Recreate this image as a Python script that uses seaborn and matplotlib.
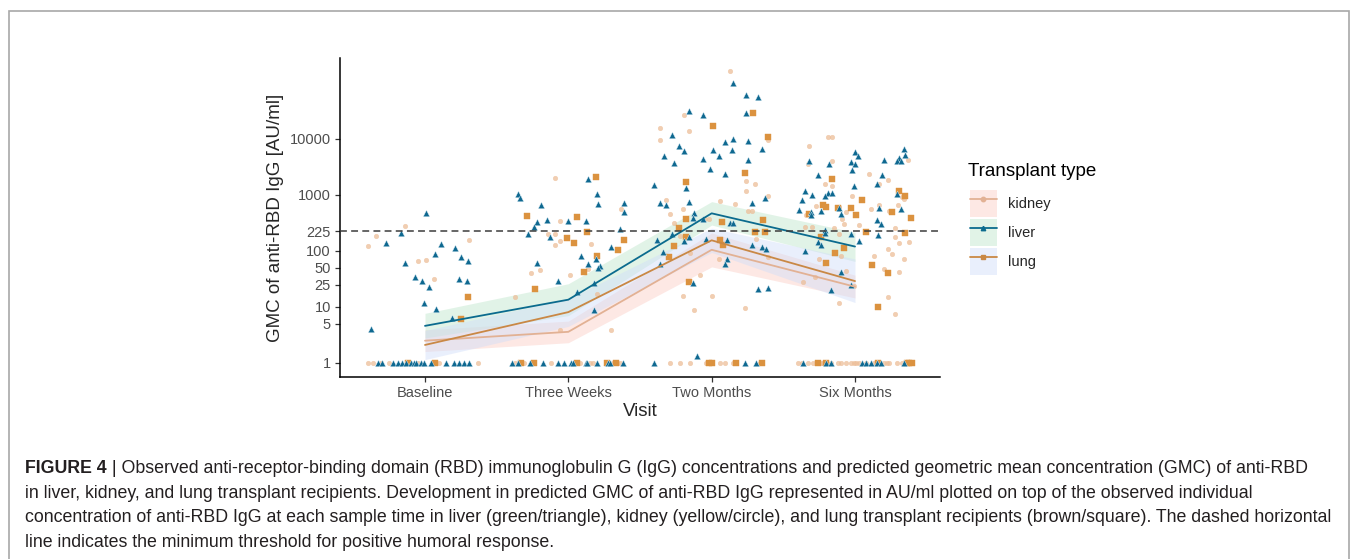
import pandas as pd
import seaborn as sns
import matplotlib.pyplot as plt
from matplotlib.patches import Patch, Rectangle
from matplotlib.lines import Line2D

# Visits (categorical x axis)
visits = ["Baseline", "Three Weeks", "Two Months", "Six Months"]

# Predicted GMC with confidence band, per transplant type
kidney_gmc = [2.5, 3.6, 105, 23]
kidney_lo = [1.6, 2.3, 52, 14.5]
kidney_hi = [3.9, 5.6, 210, 37]
liver_gmc = [4.6, 13.5, 470, 120]
liver_lo = [2.8, 7.0, 290, 65]
liver_hi = [7.7, 26, 760, 215]
lung_gmc = [2.1, 8.1, 155, 29]
lung_lo = [1.15, 4.5, 94, 12]
lung_hi = [3.8, 14, 255, 72]

threshold = 225
y_ticks = [1, 5, 10, 25, 50, 100, 225, 1000, 10000]

# Observed concentrations: (horizontal jitter, AU/ml)
liver_baseline = [(0.01, 480), (-0.17, 210), (-0.27, 137), (0.11, 132), (0.21, 113), (0.07, 87),
                  (0.25, 77), (0.30, 67), (-0.14, 60), (-0.07, 34), (-0.02, 29), (0.24, 32),
                  (0.29, 29), (0.03, 23), (-0.01, 12), (0.08, 9.2), (0.19, 6.4), (-0.38, 4.0)]
liver_baseline_floor = [-0.33, -0.30, -0.22, -0.19, -0.16, -0.13, -0.10, -0.08, -0.06, -0.03,
                        -0.01, 0.04, 0.15, 0.20, 0.24, 0.27, 0.31]
kidney_baseline = [(-0.14, 282), (-0.34, 185), (-0.40, 121), (0.31, 155), (-0.05, 65),
                   (0.01, 69), (0.06, 32)]
kidney_baseline_floor = [-0.40, -0.36, -0.31, -0.25, -0.05, 0.10, 0.37]
lung_baseline = [(0.30, 15), (0.25, 6.2)]
lung_baseline_floor = [-0.12, 0.07]

liver_3w = [(0.14, 1930), (-0.35, 1030), (-0.34, 870), (0.20, 1060), (0.21, 700), (0.39, 718),
            (0.39, 505), (-0.19, 671), (-0.15, 358), (-0.22, 330), (-0.24, 265), (-0.28, 204),
            (0.00, 350), (0.12, 345), (0.36, 250), (-0.13, 178), (0.30, 118), (0.09, 81),
            (0.19, 72), (0.14, 59), (0.22, 54), (0.21, 50), (-0.22, 62), (-0.07, 29.5),
            (0.06, 18.3), (0.18, 27), (0.18, 8.7)]
liver_3w_floor = [-0.39, -0.35, -0.27, -0.18, -0.07, -0.03, 0.02, 0.03, 0.12, 0.13, 0.20,
                  0.28, 0.29, 0.38]
kidney_3w = [(-0.09, 2040), (0.37, 555), (-0.06, 350), (-0.14, 200), (-0.09, 200), (-0.06, 152),
             (-0.09, 128), (0.16, 135), (-0.26, 41), (-0.20, 46), (0.01, 37), (0.14, 47),
             (-0.37, 15), (0.20, 17), (-0.06, 3.9), (0.30, 3.9)]
kidney_3w_floor = [-0.37, -0.31, -0.12, 0.08, 0.15, 0.17, 0.31, 0.34, 0.36]
lung_3w = [(0.19, 2100), (-0.29, 426), (0.06, 404), (-0.01, 173), (0.04, 141), (0.13, 218),
           (0.39, 155), (0.35, 102), (0.20, 80), (0.11, 43), (-0.23, 21)]
lung_3w_floor = [-0.33, -0.24, 0.06, 0.27, 0.33]

liver_2m = [(0.15, 101000), (0.24, 61000), (0.32, 55000), (0.24, 29500), (-0.16, 31600),
            (-0.06, 26900), (-0.28, 11600), (-0.23, 7500), (-0.19, 6000), (-0.33, 5000),
            (-0.26, 3700), (0.09, 8900), (0.15, 10000), (0.25, 9100), (0.01, 6370), (0.14, 6300),
            (0.05, 5000), (-0.06, 4300), (0.25, 4200), (0.35, 6600), (-0.01, 2900), (0.09, 2400),
            (-0.40, 1520), (-0.18, 1330), (-0.36, 710), (-0.32, 650), (-0.16, 750), (0.28, 710),
            (0.37, 870), (-0.12, 475), (-0.13, 394), (-0.06, 368), (0.13, 312), (0.15, 312),
            (-0.28, 200), (-0.38, 157), (-0.19, 149), (-0.16, 176), (-0.04, 166), (0.11, 160),
            (0.28, 128), (0.35, 120), (0.38, 108), (-0.34, 95), (-0.36, 58), (0.11, 71),
            (0.09, 59), (-0.13, 27), (0.32, 20.7), (0.39, 22), (-0.10, 1.33)]
liver_2m_floor = [-0.40, 0.23, 0.31]
kidney_2m = [(0.13, 162000), (-0.19, 26900), (-0.36, 15500), (-0.16, 14000), (-0.36, 9600),
             (0.39, 9500), (0.24, 1770), (0.30, 1600), (0.24, 1170), (-0.32, 820), (0.39, 970),
             (-0.20, 560), (0.06, 785), (0.16, 690), (0.25, 520), (0.28, 520), (-0.29, 450),
             (-0.26, 320), (-0.05, 368), (-0.02, 368), (-0.22, 185), (-0.15, 91), (0.05, 73),
             (0.31, 162), (0.39, 77), (-0.08, 37), (-0.20, 15.7), (0.00, 15.7), (-0.12, 8.8),
             (0.23, 9.7)]
kidney_2m_floor = [-0.29, -0.22, -0.15, -0.04, 0.06, 0.09, 0.15, 0.34]
lung_2m = [(0.29, 29500), (0.01, 17000), (0.39, 10900), (0.23, 2500), (-0.18, 1730),
           (-0.18, 373), (0.07, 333), (0.36, 358), (-0.23, 260), (0.30, 215), (0.37, 218),
           (-0.18, 178), (-0.26, 123), (0.06, 157), (0.08, 130), (-0.30, 78), (-0.16, 28)]
lung_2m_floor = [-0.02, 0.00, 0.17, 0.35]

liver_6m = [(0.34, 6700), (0.35, 5100), (0.31, 4500), (0.00, 5900), (0.02, 4900), (-0.32, 4000),
            (-0.18, 3550), (-0.03, 3900), (0.00, 3550), (0.20, 4200), (0.29, 4100), (0.32, 4100),
            (-0.02, 2760), (-0.26, 2240), (0.19, 2270), (0.15, 1560), (-0.01, 1430),
            (-0.35, 1170), (-0.30, 1000), (-0.19, 1080), (-0.16, 1080), (-0.21, 960),
            (0.29, 1050), (-0.37, 815), (-0.39, 547), (-0.31, 500), (-0.31, 435), (-0.24, 525),
            (-0.11, 585), (-0.10, 465), (0.17, 585), (0.32, 570), (0.15, 355), (0.18, 300),
            (0.16, 190), (-0.21, 237), (-0.21, 208), (-0.26, 143), (-0.24, 128), (-0.03, 200),
            (0.03, 153), (-0.35, 101), (-0.10, 43), (-0.03, 24.4), (-0.17, 19.8)]
liver_6m_floor = [-0.36, -0.20, -0.17, 0.05, 0.08, 0.11, 0.15, 0.18, 0.34]
kidney_6m = [(-0.19, 11000), (-0.16, 11000), (-0.32, 7400), (-0.33, 3520), (-0.16, 4000),
             (0.10, 2370), (0.23, 1820), (-0.21, 1570), (-0.16, 1460), (0.37, 4200), (0.17, 1570),
             (-0.02, 947), (0.33, 930), (0.34, 830), (-0.27, 645), (-0.11, 620), (-0.06, 500),
             (0.11, 560), (0.17, 650), (0.30, 660), (0.24, 510), (-0.34, 445), (-0.31, 445),
             (-0.09, 370), (-0.08, 305), (0.03, 295), (0.28, 255), (-0.35, 265), (-0.30, 265),
             (-0.15, 255), (-0.11, 198), (0.28, 178), (0.38, 145), (0.23, 108), (0.31, 139),
             (0.26, 87), (0.34, 73), (0.13, 80), (0.20, 48), (0.31, 41.5), (-0.25, 71),
             (-0.10, 83), (-0.06, 44), (-0.28, 34), (-0.36, 28), (-0.01, 23.7), (0.23, 15),
             (-0.11, 11.8), (0.28, 7.5)]
kidney_6m_floor = [-0.40, -0.37, -0.33, -0.29, -0.24, -0.22, -0.17, -0.12, -0.10, -0.06, -0.03,
                   -0.01, 0.01, 0.03, 0.08, 0.13, 0.20, 0.22, 0.24, 0.29, 0.33]
lung_6m = [(-0.16, 1930), (0.31, 1170), (0.35, 960), (0.05, 815), (-0.22, 650), (-0.20, 600),
           (-0.03, 595), (-0.12, 585), (0.26, 500), (0.01, 445), (0.39, 390), (-0.32, 450),
           (0.08, 215), (0.35, 208), (-0.24, 176), (-0.08, 111), (-0.14, 91), (-0.20, 62),
           (0.12, 56), (0.23, 40), (0.16, 10)]
lung_6m_floor = [-0.26, -0.20, 0.16, 0.36, 0.38, 0.40]

caption_lines = [
    "in liver, kidney, and lung transplant recipients. Development in predicted GMC of anti-RBD IgG "
    "represented in AU/ml plotted on top of the observed individual",
    "concentration of anti-RBD IgG at each sample time in liver (green/triangle), kidney "
    "(yellow/circle), and lung transplant recipients (brown/square). The dashed horizontal",
    "line indicates the minimum threshold for positive humoral response.",
]

# ---- build tables ----
observed = {
    "kidney": [(kidney_baseline, kidney_baseline_floor), (kidney_3w, kidney_3w_floor),
               (kidney_2m, kidney_2m_floor), (kidney_6m, kidney_6m_floor)],
    "liver": [(liver_baseline, liver_baseline_floor), (liver_3w, liver_3w_floor),
              (liver_2m, liver_2m_floor), (liver_6m, liver_6m_floor)],
    "lung": [(lung_baseline, lung_baseline_floor), (lung_3w, lung_3w_floor),
             (lung_2m, lung_2m_floor), (lung_6m, lung_6m_floor)],
}
rows = []
for group, per_visit in observed.items():
    for vi, (pts, floor) in enumerate(per_visit):
        for off, val in pts:
            rows.append((group, vi + off, val))
        for off in floor:
            rows.append((group, vi + off, 1))
points = pd.DataFrame(rows, columns=["type", "x", "value"])

pred = pd.DataFrame({
    "type": ["kidney"] * 4 + ["liver"] * 4 + ["lung"] * 4,
    "pos": list(range(4)) * 3,
    "gmc": kidney_gmc + liver_gmc + lung_gmc,
    "lo": kidney_lo + liver_lo + lung_lo,
    "hi": kidney_hi + liver_hi + lung_hi,
})

line_colors = {"kidney": "#E2B194", "liver": "#0B6B8E", "lung": "#C98845"}
point_colors = {"kidney": "#EDBE98", "liver": "#0E6890", "lung": "#DB923F"}
fill_colors = {"kidney": "#FCCCC4", "liver": "#BDE6CA", "lung": "#D0DDFA"}
markers = {"kidney": "o", "liver": "^", "lung": "s"}
msize = {"kidney": 11, "liver": 22, "lung": 15}
palpha = {"kidney": 0.75, "liver": 1.0, "lung": 1.0}

# ---- plot ----
sns.set_style("ticks")
plt.rcParams["font.family"] = ["Liberation Sans", "DejaVu Sans"]

fig = plt.figure(figsize=(13.55, 5.59), dpi=100)
ax = fig.add_axes([340 / 1355, 1 - 377 / 559, 600 / 1355, 319 / 559])

for g in ["kidney", "liver", "lung"]:
    d = pred[pred["type"] == g]
    ax.fill_between(d["pos"], d["lo"], d["hi"], color=fill_colors[g], alpha=0.45,
                    linewidth=0, zorder=1)

for g in ["kidney", "lung", "liver"]:
    sns.scatterplot(data=points[points["type"] == g], x="x", y="value", marker=markers[g],
                    s=msize[g], color=point_colors[g], alpha=palpha[g], linewidth=0.3,
                    edgecolor="#DDEEF5" if g == "liver" else point_colors[g], ax=ax, zorder=2)

sns.lineplot(data=pred, x="pos", y="gmc", hue="type", palette=line_colors, estimator=None,
             linewidth=1.3, legend=False, ax=ax, zorder=3)

ax.axhline(threshold, color="#3C3C3C", linestyle=(0, (4.5, 2.8)), linewidth=1.1, zorder=4)

ax.set_yscale("log")
ax.set_ylim(0.562, 2.79e5)
ax.set_xlim(-0.593, 3.593)
ax.set_yticks(y_ticks)
ax.set_yticklabels([str(t) for t in y_ticks])
ax.minorticks_off()
ax.set_xticks(range(4))
ax.set_xticklabels(visits)
ax.tick_params(axis="both", length=3.5, width=0.9, color="#333333", labelcolor="#4D4D4D",
               labelsize=10.5, pad=3)
for side in ["top", "right"]:
    ax.spines[side].set_visible(False)
for side in ["left", "bottom"]:
    ax.spines[side].set_color("black")
    ax.spines[side].set_linewidth(1.1)
ax.set_xlabel("Visit", fontsize=13.5, labelpad=2)
ax.set_ylabel("GMC of anti-RBD IgG [AU/ml]", fontsize=13.5, labelpad=4.5)

# legend: title as separate text so the gap under it matches ggplot
handles = [
    (Patch(facecolor=fill_colors[g], alpha=0.45, edgecolor="none"),
     Line2D([], [], color=line_colors[g], marker=markers[g], markersize=3.2, linewidth=1.3))
    for g in ["kidney", "liver", "lung"]
]
fig.text(968 / 1355, 1 - 171.5 / 559, "Transplant type", fontsize=13.5, va="center", color="black")
fig.legend(handles, ["kidney", "liver", "lung"], loc="upper left",
           bbox_to_anchor=(970 / 1355, 1 - 190 / 559), frameon=False, fontsize=10.5,
           borderpad=0, borderaxespad=0, handlelength=1.85, handleheight=2.47,
           labelspacing=0.14, handletextpad=0.75)

# figure frame and caption
fig.add_artist(Rectangle((9 / 1355, -0.05), 1340 / 1355, 1.05 - 11 / 559, transform=fig.transFigure,
                         fill=False, edgecolor="#A8A8A8", linewidth=1.2))

cap_kw = dict(fontsize=12.8, color="#231F20", va="baseline")
x0 = 25 / 1355
bold = fig.text(x0, 1 - 473 / 559, "FIGURE 4", fontweight="bold", **cap_kw)
fig.canvas.draw()
bb = bold.get_window_extent(renderer=fig.canvas.get_renderer())
fig.text(bb.x1 / fig.bbox.width, 1 - 473 / 559,
         " | Observed anti-receptor-binding domain (RBD) immunoglobulin G (IgG) concentrations "
         "and predicted geometric mean concentration (GMC) of anti-RBD", **cap_kw)
for i, line in enumerate(caption_lines):
    fig.text(x0, 1 - (497.5 + 24.7 * i) / 559, line, **cap_kw)

fig.savefig("out.png", dpi=100)
